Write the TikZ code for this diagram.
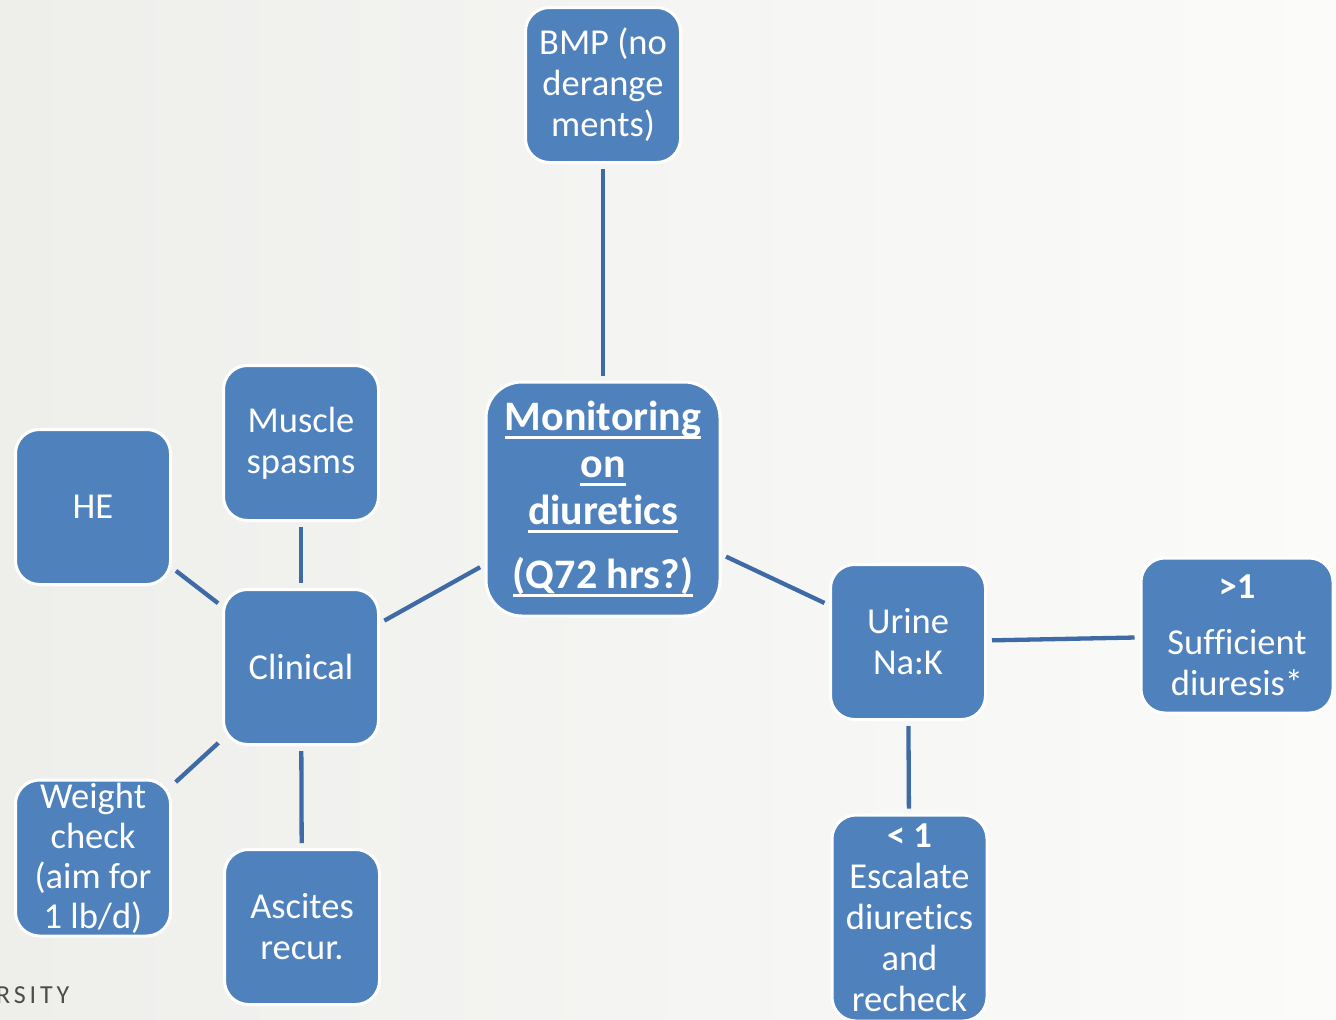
\documentclass[tikz,border=0pt]{standalone}
\usepackage{fontspec}
\setmainfont[Ligatures={NoCommon}]{Carlito}
\newfontfamily\logofont[LetterSpace=15]{Carlito}
\definecolor{boxblue}{RGB}{79,129,189}
\definecolor{linkblue}{RGB}{62,106,165}
\definecolor{bgA}{RGB}{238,238,235}
\definecolor{bgB}{RGB}{251,251,250}
\newcommand\myul[1]{\leavevmode\setbox0\hbox{#1}\rlap{\rule[-0.21em]{\wd0}{0.07em}}\box0}
\begin{document}
\begin{tikzpicture}[x=1pt,y=-1pt,
  boxnode/.style={draw=white, line width=3pt, fill=boxblue, rounded corners=24pt,
    minimum width=155pt, minimum height=155pt, text=white, align=center,
    inner sep=2pt, font=\fontsize{36.5}{41}\selectfont},
  link/.style={draw=linkblue, line width=4.3pt, shorten <=5pt, shorten >=5pt}]
\fill[left color=bgA, right color=bgB] (0,0) rectangle (1336,1020);
\useasboundingbox (0,0) rectangle (1336,1020);
\clip (0,0) rectangle (1336,1020);

\node[boxnode] (bmp) at (603,85) {BMP (no\\derange\\ments)};
\node[boxnode, minimum width=234pt, minimum height=234pt, rounded corners=36pt,
  font=\bfseries\fontsize{42}{47}\selectfont] (mon) at (603,499)
  {\myul{Monitoring}\\\myul{on}\\\myul{diuretics}\\[17pt]\myul{(Q72 hrs?)}};
\node[boxnode] (musc) at (301,443) {Muscle\\spasms};
\node[boxnode] (he) at (93,507) {HE};
\node[boxnode] (clin) at (301,667) {Clinical};
\node[boxnode, inner sep=0pt, minimum height=156pt, font=\fontsize{36.5}{40}\selectfont] (wt) at (93,858)
  {Weight\\check\\(aim for\\1 lb/d)};
\node[boxnode] (asc) at (302,927) {Ascites\\recur.};
\node[boxnode] (urine) at (908,642) {Urine\\Na:K};
\node[boxnode, minimum width=192pt] (suff) at (1237,635.5)
  {\textbf{>1}\\[15pt]Sufficient\\diuresis*};
\node[boxnode, minimum height=206pt] (esc) at (909.5,918)
  {\textbf{< 1}\\Escalate\\diuretics\\and\\recheck};

\draw[link] (bmp) -- (mon);
\draw[link] (mon) -- (clin);
\draw[link] (mon) -- (urine);
\draw[link] (urine) -- (suff);
\draw[link] (urine) -- (esc);
\draw[link] (musc) -- (clin);
\draw[link] (he) -- (clin);
\draw[link] (clin) -- (wt);
\draw[link] (clin) -- (asc);

\node[anchor=base west, inner sep=0pt, text=black!70,
  font=\logofont\fontsize{26}{30}\selectfont] (logo) at (-4,1003) {RSITY};
\end{tikzpicture}
\end{document}
